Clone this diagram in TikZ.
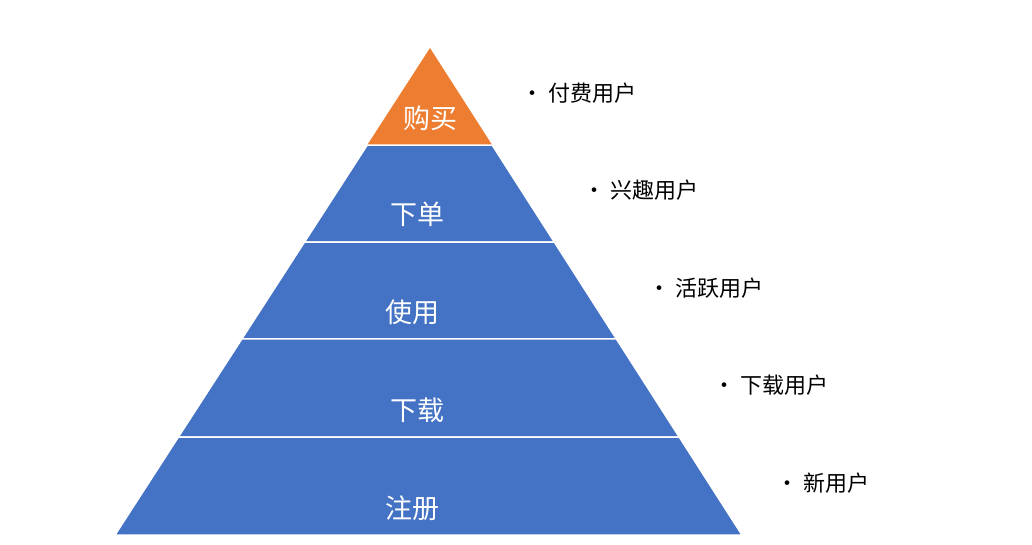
\documentclass[tikz,border=0pt]{standalone}
\usepackage{fontspec}
\setmainfont{Noto Sans CJK SC}
\usetikzlibrary{positioning, calc}
\definecolor{layerblue}{HTML}{4472C4}
\definecolor{layerorange}{HTML}{ED7D31}

\begin{document}
\begin{tikzpicture}[
    x=1pt, y=-1pt,
    layer/.style={fill=layerblue, draw=white, line width=1.5pt},
    layer label/.style={text=white, font=\fontsize{27}{30}\selectfont},
    side label/.style={anchor=west, font=\fontsize{22}{26}\selectfont},
    ]
    \useasboundingbox (0,0) rectangle (1032,544);
    % pyramid corners
    \coordinate (apex) at (430,48);
    \coordinate (bl) at (115,535);
    \coordinate (br) at (742,535);
    % layers, top to bottom
    \fill[layerorange] (apex) -- ($(apex)!0.1992!(bl)$) -- ($(apex)!0.1992!(br)$) -- cycle;
    \foreach \a/\b in {0.1992/0.3984, 0.3984/0.5975, 0.5975/0.7988, 0.7988/1} {
        \draw[layer] ($(apex)!\a!(bl)$) -- ($(apex)!\b!(bl)$) -- ($(apex)!\b!(br)$) -- ($(apex)!\a!(br)$) -- cycle;
    }
    \node[layer label] (buy) at (430,118) {购买};
    \node[layer label] (order) at (417,214) {下单};
    \node[layer label] (use) at (412,312) {使用};
    \node[layer label] (download) at (417,410) {下载};
    \node[layer label] (register) at (412,508) {注册};
    % user types
    \node[side label] (paying) at (518,93) {• 付费用户};
    \node[side label] (interest) at (580,190) {• 兴趣用户};
    \node[side label] (active) at (645,288) {• 活跃用户};
    \node[side label] (dlusers) at (710,385) {• 下载用户};
    \node[side label] (newusers) at (773,483) {• 新用户};
\end{tikzpicture}
\end{document}
